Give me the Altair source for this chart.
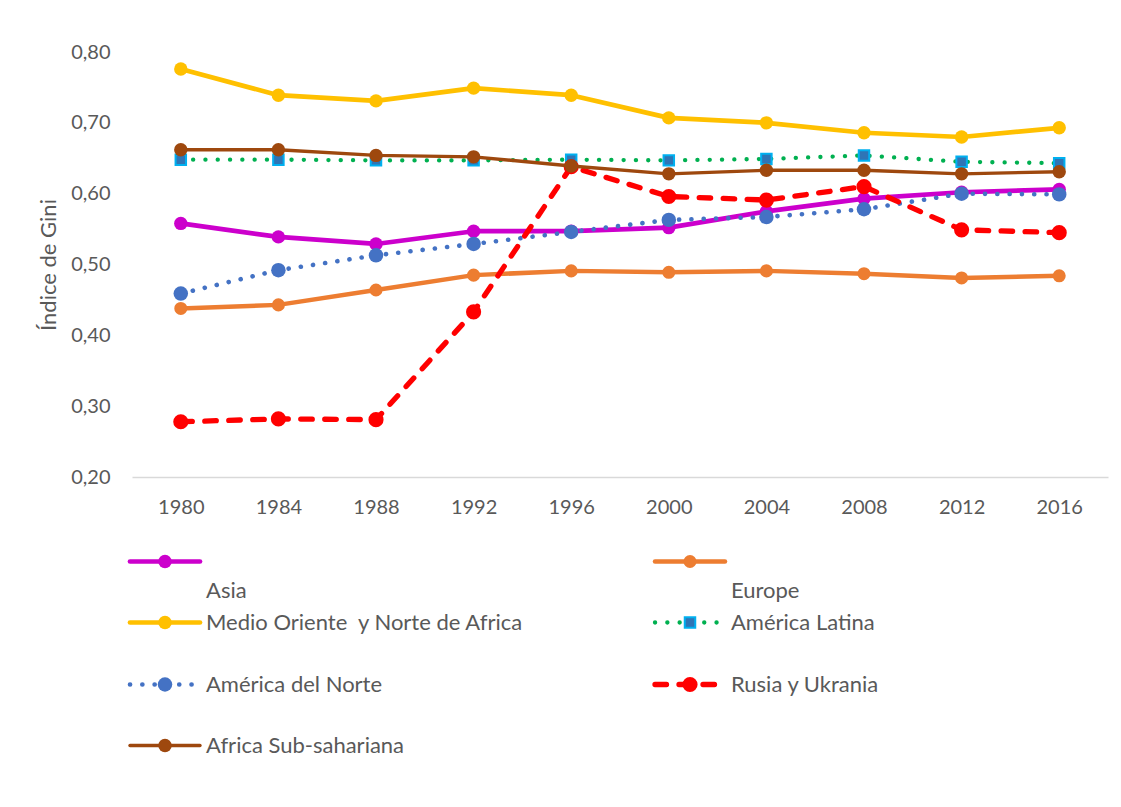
import altair as alt
import pandas as pd

years = [1980, 1984, 1988, 1992, 1996, 2000, 2004, 2008, 2012, 2016]

asia = [0.558, 0.539, 0.529, 0.547, 0.547, 0.552, 0.575, 0.593, 0.602, 0.606]
europe = [0.438, 0.443, 0.464, 0.485, 0.491, 0.489, 0.491, 0.487, 0.481, 0.484]
medio_oriente = [0.776, 0.739, 0.731, 0.749, 0.739, 0.707, 0.700, 0.686, 0.680, 0.693]
america_latina = [0.648, 0.648, 0.647, 0.647, 0.648, 0.647, 0.649, 0.654, 0.645, 0.643]
america_norte = [0.459, 0.492, 0.513, 0.529, 0.546, 0.563, 0.567, 0.578, 0.600, 0.599]
rusia_ukrania = [0.278, 0.282, 0.281, 0.433, 0.638, 0.596, 0.591, 0.610, 0.549, 0.545]
africa_sub = [0.662, 0.662, 0.654, 0.652, 0.639, 0.628, 0.633, 0.633, 0.628, 0.631]

series_names = [
    "Asia",
    "Europe",
    "Medio Oriente\u00a0 y Norte de Africa",
    "América Latina",
    "América del Norte",
    "Rusia y Ukrania",
    "Africa Sub-sahariana",
]
series_values = [asia, europe, medio_oriente, america_latina, america_norte,
                 rusia_ukrania, africa_sub]

y_ticks = [0.2, 0.3, 0.4, 0.5, 0.6, 0.7, 0.8]

# styles (kept apart from the data)
styles = {
    "Asia": dict(color="#CC00CC", width=4.7, dash=None, shape="circle", size=180,
                 fill="#CC00CC", stroke=None),
    "Europe": dict(color="#ED7D31", width=4.5, dash=None, shape="circle", size=170,
                   fill="#ED7D31", stroke=None),
    "Medio Oriente\u00a0 y Norte de Africa": dict(color="#FFC000", width=4.7, dash=None,
                                                  shape="circle", size=180,
                                                  fill="#FFC000", stroke=None),
    "América Latina": dict(color="#00B050", width=4.3, dash=[0.1, 12.2], shape="square",
                           size=110, fill="#2E75B6", stroke="#00B0F0"),
    "América del Norte": dict(color="#4472C4", width=4.6, dash=[0.1, 12.2],
                              shape="circle", size=210, fill="#4472C4", stroke=None),
    "Rusia y Ukrania": dict(color="#FF0000", width=5.3, dash=[11.5, 12.5],
                            shape="circle", size=230, fill="#FF0000", stroke=None),
    "Africa Sub-sahariana": dict(color="#9E480E", width=3.4, dash=None, shape="circle",
                                 size=180, fill="#9E480E", stroke=None),
}

FONT = "Lato"
TXT = "#595959"

rows = []
for name, vals in zip(series_names, series_values):
    for yr, v in zip(years, vals):
        rows.append({"year": str(yr), "value": v, "series": name})
df = pd.DataFrame(rows)

x_enc = alt.X(
    "year:O",
    sort=[str(y) for y in years],
    axis=alt.Axis(title=None, labelAngle=0, ticks=False, tickSize=0, labelPadding=20,
                  labelFont=FONT, labelFontSize=20, labelColor=TXT,
                  domainColor="#D9D9D9", domainWidth=1.3, grid=False),
)
y_enc = alt.Y(
    "value:Q",
    scale=alt.Scale(domain=[0.2, 0.8], nice=False, zero=False),
    axis=alt.Axis(title="Índice de Gini", values=y_ticks,
                  labelExpr="replace(format(datum.value, '.2f'), '.', ',')",
                  grid=False, domain=False, ticks=False, tickSize=0, labelPadding=22,
                  labelFont=FONT, labelFontSize=20, labelColor=TXT,
                  titleFont=FONT, titleFontSize=22, titleFontWeight="normal",
                  titleColor=TXT, titlePadding=10),
)

layers = []
for name in series_names:
    st = styles[name]
    line_kw = dict(color=st["color"], strokeWidth=st["width"], strokeCap="round",
                   strokeJoin="round")
    if st["dash"] is not None:
        line_kw["strokeDash"] = st["dash"]
    base = alt.Chart().transform_filter(alt.datum.series == name)
    layers.append(base.mark_line(**line_kw).encode(x=x_enc, y=y_enc))
    pt_kw = dict(shape=st["shape"], size=st["size"], fill=st["fill"], opacity=1,
                 fillOpacity=1)
    if st["stroke"] is not None:
        pt_kw.update(stroke=st["stroke"], strokeWidth=2)
    else:
        pt_kw.update(strokeWidth=0)
    layers.append(base.mark_point(**pt_kw).encode(x=x_enc, y=y_enc))

main = alt.layer(*layers, data=df).properties(width=976, height=425)

# custom legend (layout table), positions measured from the plot's bottom edge
LW, LH = 976, 290
leg_col_x = [-2, 523, -2, 523, -2, 523, -2]
leg_sym_y = [84.5, 84.5, 145.5, 145.5, 207.5, 207.5, 268.5]
leg_txt_y = [113.5, 113.5, 145.5, 145.5, 207.5, 207.5, 268.5]
leg = pd.DataFrame({
    "series": series_names,
    "x0": leg_col_x,
    "x1": [v + 70 for v in leg_col_x],
    "xm": [v + 35 for v in leg_col_x],
    "xt": [v + 76 for v in leg_col_x],
    "ys": leg_sym_y,
    "yt": leg_txt_y,
})
lx = alt.Scale(domain=[0, LW], nice=False, zero=False)
ly = alt.Scale(domain=[0, LH], nice=False, zero=False, reverse=True)

leg_layers = []
for name in series_names:
    st = styles[name]
    base = alt.Chart().transform_filter(alt.datum.series == name)
    rule_kw = dict(color=st["color"], strokeWidth=st["width"], strokeCap="round")
    if st["dash"] is not None:
        rule_kw["strokeDash"] = st["dash"]
    leg_layers.append(base.mark_rule(**rule_kw).encode(
        x=alt.X("x0:Q", scale=lx, axis=None), x2="x1:Q",
        y=alt.Y("ys:Q", scale=ly, axis=None)))
    pt_kw = dict(shape=st["shape"], size=st["size"], fill=st["fill"], opacity=1,
                 fillOpacity=1)
    if st["stroke"] is not None:
        pt_kw.update(stroke=st["stroke"], strokeWidth=2)
    else:
        pt_kw.update(strokeWidth=0)
    leg_layers.append(base.mark_point(**pt_kw).encode(
        x=alt.X("xm:Q", scale=lx, axis=None), y=alt.Y("ys:Q", scale=ly, axis=None)))
    leg_layers.append(base.mark_text(align="left", baseline="middle", font=FONT,
                                     fontSize=22, color=TXT).encode(
        x=alt.X("xt:Q", scale=lx, axis=None), y=alt.Y("yt:Q", scale=ly, axis=None),
        text="series:N"))

legend = alt.layer(*leg_layers, data=leg).properties(width=LW, height=LH)

chart = alt.vconcat(main, legend, spacing=0, bounds="flush").properties(
    padding={"left": 29, "top": 34, "right": 5, "bottom": 5},
    background="white",
).configure(font=FONT).configure_view(strokeWidth=0, stroke="transparent")

chart.save("out.html", embed_options={"renderer": "svg", "actions": False})
